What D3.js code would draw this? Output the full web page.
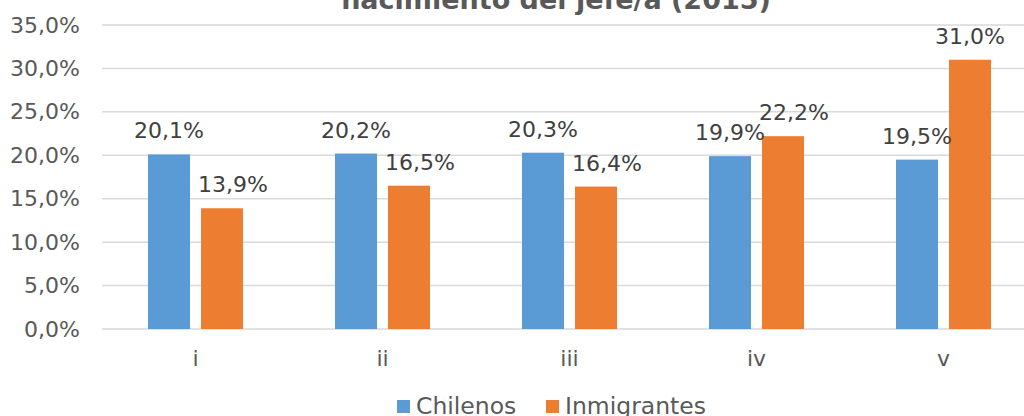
<!DOCTYPE html>
<html>
<head>
<meta charset="utf-8">
<script src="https://cdn.jsdelivr.net/npm/d3@7"></script>
<style>
  body { margin: 0; background: #fff; }
  svg { display: block; font-family: "DejaVu Sans", Verdana, sans-serif; }
</style>
</head>
<body>
<div id="chart"></div>
<script>
/* DATA */
const categories = ["i", "ii", "iii", "iv", "v"];
const seriesNames = ["Chilenos", "Inmigrantes"];
const chilenos = [0.201, 0.202, 0.203, 0.199, 0.195];
const inmigrantes = [0.139, 0.165, 0.164, 0.222, 0.310];
const yTicks = [0, 0.05, 0.10, 0.15, 0.20, 0.25, 0.30, 0.35];
const titleText = "nacimiento del jefe/a (2015)";

const colors = { Chilenos: "#5B9BD5", Inmigrantes: "#ED7D31" };

const width = 1024, height = 416;

const svg = d3.select("#chart").append("svg")
  .attr("width", width)
  .attr("height", height);

// scales
const x0 = d3.scaleBand().domain(categories).range([102, 1037]).padding(0);
const x1 = d3.scaleBand().domain(seriesNames)
  .range([0, x0.bandwidth()])
  .paddingInner(0.2075)
  .paddingOuter(0.868);
const y = d3.scaleLinear().domain([0, 0.35]).range([329, 25]);

const fmt = v => d3.format(".1f")(v * 100).replace(".", ",") + "%";

// gridlines
svg.append("g")
  .selectAll("line")
  .data(yTicks)
  .join("line")
  .attr("x1", 102).attr("x2", 1037)
  .attr("y1", d => y(d)).attr("y2", d => y(d))
  .attr("stroke", "#d9d9d9")
  .attr("stroke-width", 1.5);

// y axis labels
const yAxis = d3.axisLeft(y).tickValues(yTicks).tickFormat(fmt).tickSize(0).tickPadding(22);
svg.append("g")
  .attr("transform", "translate(102,0)")
  .call(yAxis)
  .call(g => g.select(".domain").remove())
  .selectAll("text")
  .attr("font-family", "DejaVu Sans, Verdana, sans-serif")
  .attr("font-size", 22)
  .attr("fill", "#595959");

// x axis labels
const xAxis = d3.axisBottom(x0).tickSize(0).tickPadding(21);
svg.append("g")
  .attr("transform", "translate(0,329)")
  .call(xAxis)
  .call(g => g.select(".domain").remove())
  .selectAll("text")
  .attr("font-family", "DejaVu Sans, Verdana, sans-serif")
  .attr("font-size", 22)
  .attr("fill", "#595959");

// bars
const rows = categories.map((c, i) => ({
  cat: c,
  values: [
    { name: "Chilenos", value: chilenos[i], other: inmigrantes[i] },
    { name: "Inmigrantes", value: inmigrantes[i], other: chilenos[i] }
  ]
}));

const groups = svg.append("g")
  .selectAll("g")
  .data(rows)
  .join("g")
  .attr("transform", d => `translate(${x0(d.cat)},0)`);

groups.selectAll("rect")
  .data(d => d.values)
  .join("rect")
  .attr("x", d => x1(d.name))
  .attr("width", x1.bandwidth())
  .attr("y", d => y(d.value))
  .attr("height", d => y(0) - y(d.value))
  .attr("fill", d => colors[d.name]);

// second-series labels nudge right when they sit close to the first-series label
const nudge = d =>
  d.name === "Inmigrantes" && Math.abs(y(d.value) - y(d.other)) < 80 ? 11 : 0;

groups.selectAll("text")
  .data(d => d.values)
  .join("text")
  .attr("x", d => x1(d.name) + x1.bandwidth() / 2 + nudge(d))
  .attr("y", d => y(d.value) - 16)
  .attr("text-anchor", "middle")
  .attr("font-size", 22)
  .attr("fill", "#404040")
  .text(d => fmt(d.value));

// title (first line lies above the visible area)
svg.append("text")
  .attr("x", 556)
  .attr("y", 9)
  .attr("text-anchor", "middle")
  .attr("font-size", 27)
  .attr("font-weight", "bold")
  .attr("fill", "#595959")
  .text(titleText);

// legend
const legendX = [397, 546];
const legend = svg.append("g")
  .selectAll("g")
  .data(seriesNames)
  .join("g")
  .attr("transform", (d, i) => `translate(${legendX[i]},0)`);

legend.append("rect")
  .attr("x", 0).attr("y", 400)
  .attr("width", 13).attr("height", 13)
  .attr("fill", d => colors[d]);

legend.append("text")
  .attr("x", 19).attr("y", 414)
  .attr("font-size", 23.5)
  .attr("fill", "#595959")
  .text(d => d);
</script>
</body>
</html>
